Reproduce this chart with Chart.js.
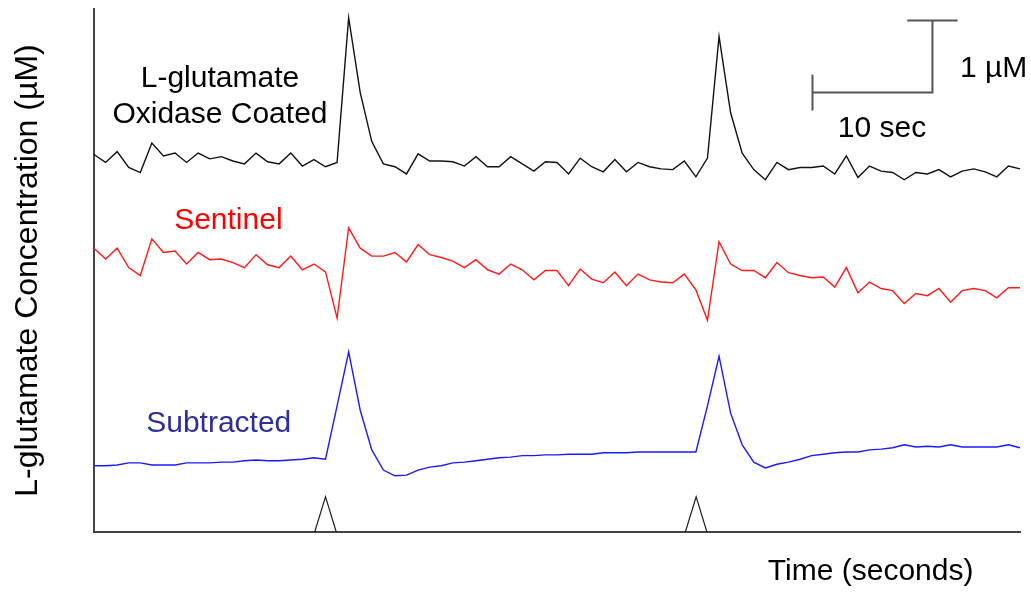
<!DOCTYPE html>
<html>
<head>
<meta charset="utf-8">
<title>L-glutamate traces</title>
<script src="https://cdn.jsdelivr.net/npm/chart.js@4/dist/chart.umd.min.js"></script>
<style>
  html, body { margin: 0; padding: 0; background: #fff; }
  #wrap { width: 1031px; height: 592px; position: relative; }
</style>
</head>
<body>
<div id="wrap"><canvas id="trace-chart"></canvas></div>
<script>
/* ── Data (µM, one sample every SAMPLE_S seconds) ─────────────── */
const SAMPLE_S = 0.965;

const oxidaseCoated = [
  5.24, 5.13, 5.28, 5.06, 4.99, 5.40, 5.22, 5.26, 5.13, 5.26,
  5.18, 5.21, 5.15, 5.11, 5.26, 5.14, 5.11, 5.26, 5.08, 5.17,
  5.07, 5.13, 7.14, 6.10, 5.42, 5.11, 5.07, 4.97, 5.25, 5.15,
  5.15, 5.14, 5.08, 5.21, 5.07, 5.07, 5.21, 5.11, 5.01, 5.14,
  5.13, 4.97, 5.19, 5.07, 5.00, 5.17, 5.00, 5.13, 5.07, 5.04,
  5.03, 5.15, 4.93, 5.19, 6.88, 5.82, 5.26, 5.03, 4.89, 5.13,
  5.03, 5.06, 5.06, 5.08, 4.97, 5.22, 4.92, 5.08, 5.01, 4.99,
  4.89, 4.99, 4.97, 5.03, 4.93, 5.01, 5.04, 5.00, 4.93, 5.08,
  5.04,
];

const sentinel = [
  3.94, 3.79, 3.94, 3.67, 3.56, 4.07, 3.88, 3.90, 3.72, 3.88,
  3.78, 3.79, 3.74, 3.67, 3.85, 3.71, 3.67, 3.83, 3.64, 3.72,
  3.61, 2.97, 4.22, 3.94, 3.83, 3.83, 3.88, 3.75, 3.99, 3.85,
  3.81, 3.76, 3.67, 3.78, 3.64, 3.58, 3.72, 3.64, 3.50, 3.63,
  3.63, 3.42, 3.65, 3.51, 3.46, 3.61, 3.42, 3.58, 3.50, 3.47,
  3.46, 3.58, 3.36, 2.94, 4.03, 3.72, 3.63, 3.63, 3.53, 3.74,
  3.60, 3.56, 3.53, 3.54, 3.40, 3.67, 3.32, 3.47, 3.38, 3.35,
  3.17, 3.31, 3.28, 3.38, 3.19, 3.35, 3.38, 3.35, 3.25, 3.39,
  3.39,
];

const subtracted = [
  0.92, 0.92, 0.93, 0.96, 0.96, 0.93, 0.93, 0.93, 0.96, 0.96,
  0.96, 0.97, 0.97, 0.99, 1.00, 0.99, 0.99, 1.00, 1.01, 1.03,
  1.01, 1.75, 2.50, 1.69, 1.14, 0.86, 0.78, 0.79, 0.86, 0.90,
  0.92, 0.96, 0.97, 0.99, 1.01, 1.03, 1.04, 1.06, 1.06, 1.07,
  1.07, 1.08, 1.08, 1.08, 1.10, 1.10, 1.10, 1.11, 1.11, 1.11,
  1.11, 1.11, 1.11, 1.75, 2.44, 1.65, 1.21, 0.97, 0.89, 0.94,
  0.97, 1.01, 1.06, 1.08, 1.10, 1.11, 1.11, 1.14, 1.15, 1.17,
  1.21, 1.18, 1.19, 1.18, 1.21, 1.18, 1.18, 1.18, 1.18, 1.21,
  1.17,
];

// stimulus (glutamate application) times, seconds
const stimulusTimes = [19.3, 50.2];

// scale bar: corner at (seconds, µM), 10 s wide, 1 µM tall
const scaleBar = { t: 69.9, v: 6.1, seconds: 10, micromolar: 1 };

/* ── Helpers ──────────────────────────────────────────────────── */
const FONT = '"Liberation Sans", Arial, Helvetica, sans-serif';

function toPoints(values) {
  return values.map((v, i) => ({ x: i * SAMPLE_S, y: v }));
}

function traceSet(values, color) {
  return {
    data: toPoints(values),
    borderColor: color,
    borderWidth: 1.4,
    pointRadius: 0,
    tension: 0,
    clip: false,
  };
}

function markSet(points, color, width) {
  return {
    data: points,
    borderColor: color,
    borderWidth: width,
    pointRadius: 0,
    tension: 0,
    clip: false,
  };
}

const datasets = [
  traceSet(oxidaseCoated, '#111111'),
  traceSet(sentinel, '#ff1a1a'),
  traceSet(subtracted, '#1a1aff'),
];

// stimulus markers (small open triangles on the time axis)
stimulusTimes.forEach(t => {
  datasets.push(markSet([
    { x: t - 0.9, y: 0 }, { x: t, y: 0.49 }, { x: t + 0.9, y: 0 },
  ], '#222', 1.2));
});

// scale bar pieces
const sb = scaleBar;
datasets.push(markSet([
  { x: sb.t - sb.seconds, y: sb.v }, { x: sb.t, y: sb.v }, { x: sb.t, y: sb.v + sb.micromolar },
], '#555', 2));
datasets.push(markSet([
  { x: sb.t - sb.seconds, y: sb.v - 0.25 }, { x: sb.t - sb.seconds, y: sb.v + 0.25 },
], '#555', 2));
datasets.push(markSet([
  { x: sb.t - 2.1, y: sb.v + sb.micromolar }, { x: sb.t + 2.1, y: sb.v + sb.micromolar },
], '#555', 2));

/* ── In-plot text ─────────────────────────────────────────────── */
const notes = [
  { text: 'L-glutamate',    t: 10.5, v: 6.18, color: '#000' },
  { text: 'Oxidase Coated', t: 10.5, v: 5.68, color: '#000' },
  { text: 'Sentinel',       t: 11.2, v: 4.21, color: '#ff0000' },
  { text: 'Subtracted',     t: 10.4, v: 1.39, color: '#2e2e9a' },
  { text: '10 sec',         t: 65.7, v: 5.49, color: '#000' },
  { text: '1 µM',           t: 75.0, v: 6.32, color: '#000' },
  { text: 'Time (seconds)', t: 64.75, v: -0.67, color: '#000' },
];

const notesPlugin = {
  id: 'notes',
  afterDatasetsDraw(chart) {
    const { ctx, scales: { x, y } } = chart;
    ctx.save();
    ctx.font = '30px ' + FONT;
    ctx.textAlign = 'center';
    ctx.textBaseline = 'alphabetic';
    notes.forEach(n => {
      ctx.fillStyle = n.color;
      ctx.fillText(n.text, x.getPixelForValue(n.t), y.getPixelForValue(n.v));
    });
    ctx.restore();
  },
};

/* ── Chart ────────────────────────────────────────────────────── */
new Chart(document.getElementById('trace-chart'), {
  type: 'line',
  data: { datasets },
  plugins: [notesPlugin],
  options: {
    responsive: true,
    maintainAspectRatio: false,
    animation: false,
    events: [],
    layout: { padding: { left: 0, top: 9, right: 11, bottom: 60 } },
    plugins: { legend: { display: false }, tooltip: { enabled: false } },
    scales: {
      x: {
        type: 'linear',
        min: 0,
        max: 80 * SAMPLE_S,
        ticks: { display: false },
        grid: { display: false, drawTicks: false },
        border: { display: true, color: '#444', width: 2 },
      },
      y: {
        type: 'linear',
        min: 0,
        max: 7.26,
        ticks: { display: false },
        grid: { display: false, drawTicks: false },
        border: { display: true, color: '#444', width: 2 },
        title: {
          display: true,
          text: 'L-glutamate Concentration (µM)',
          color: '#000',
          font: { family: FONT, size: 32 },
          padding: { top: 9, bottom: 46.6 },
        },
      },
    },
  },
});
</script>
</body>
</html>
